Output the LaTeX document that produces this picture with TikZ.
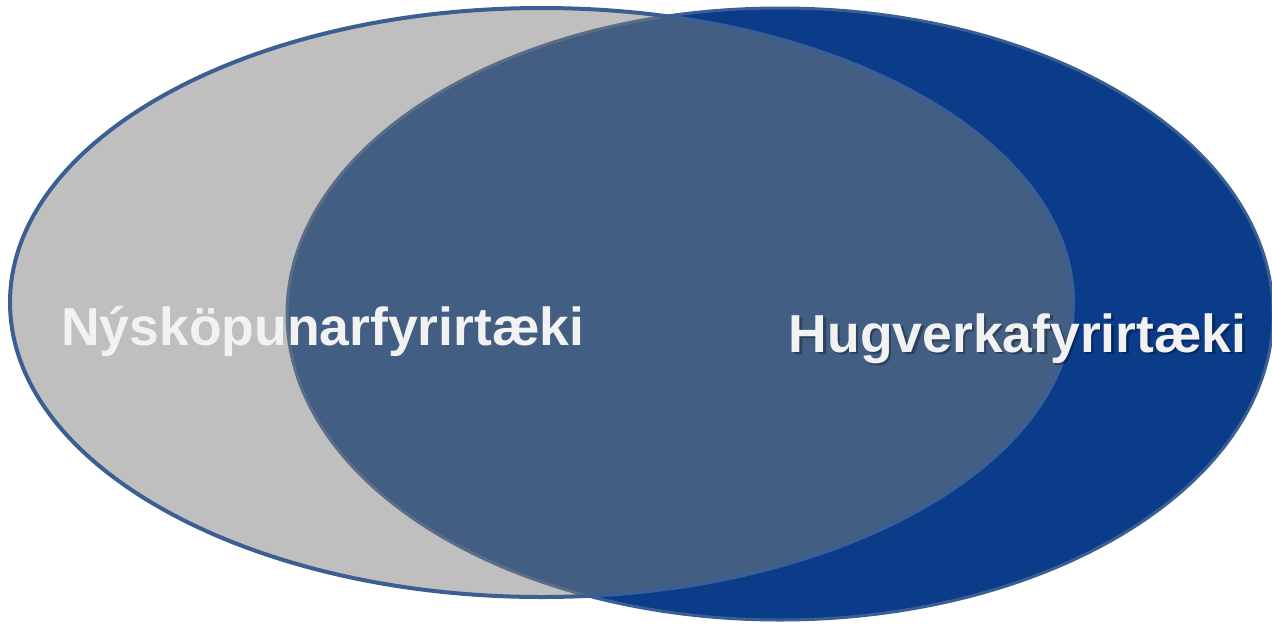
\documentclass[tikz,border=0pt]{standalone}
\usepackage{fontspec}
\setmainfont{Liberation Sans}
\usepackage{tikz}

\definecolor{egray}{HTML}{BFBFBF}
\definecolor{eblue}{HTML}{0A3C8A}
\definecolor{ecut}{HTML}{425E82}
\definecolor{eline}{HTML}{3B5F92}
\definecolor{eedge}{HTML}{5C6D88}
\definecolor{etext}{HTML}{F2F2F2}

\tikzset{
	setname/.style={inner sep=0pt, anchor=base west, text=etext,
		font=\fontsize{53.5}{60}\selectfont\bfseries},
}

\begin{document}
\begin{tikzpicture}[x=1pt, y=-1pt]
	\useasboundingbox (0, 0) rectangle (1272, 627);
	
	\def\lx{541.5}
	\def\ly{302.5}
	\def\rx{780}
	\def\ry{314}
	
	% right set
	\filldraw [fill=eblue, draw=eline, line width=3] (\rx, \ry) ellipse (493 and 306);
	% left set
	\fill [egray] (\lx, \ly) ellipse (531.5 and 294.5);
	\begin{scope}
		\clip (\lx, \ly) ellipse (531.5 and 294.5);
		\fill [ecut] (\rx, \ry) ellipse (493 and 306);
		\draw [eedge, line width=3] (\rx, \ry) ellipse (493 and 306);
	\end{scope}
	\draw [eline, line width=4] (\lx, \ly) ellipse (531.5 and 294.5);
	
	\node [setname] (nysk) at (61, 345) {Nýsköpunarfyrirtæki};
	\node [setname, text=black, opacity=0.3] (hugshadow) at (791, 354.5) {Hugverkafyrirtæki};
	\node [setname] (hug) at (788.5, 352) {Hugverkafyrirtæki};
\end{tikzpicture}
\end{document}
